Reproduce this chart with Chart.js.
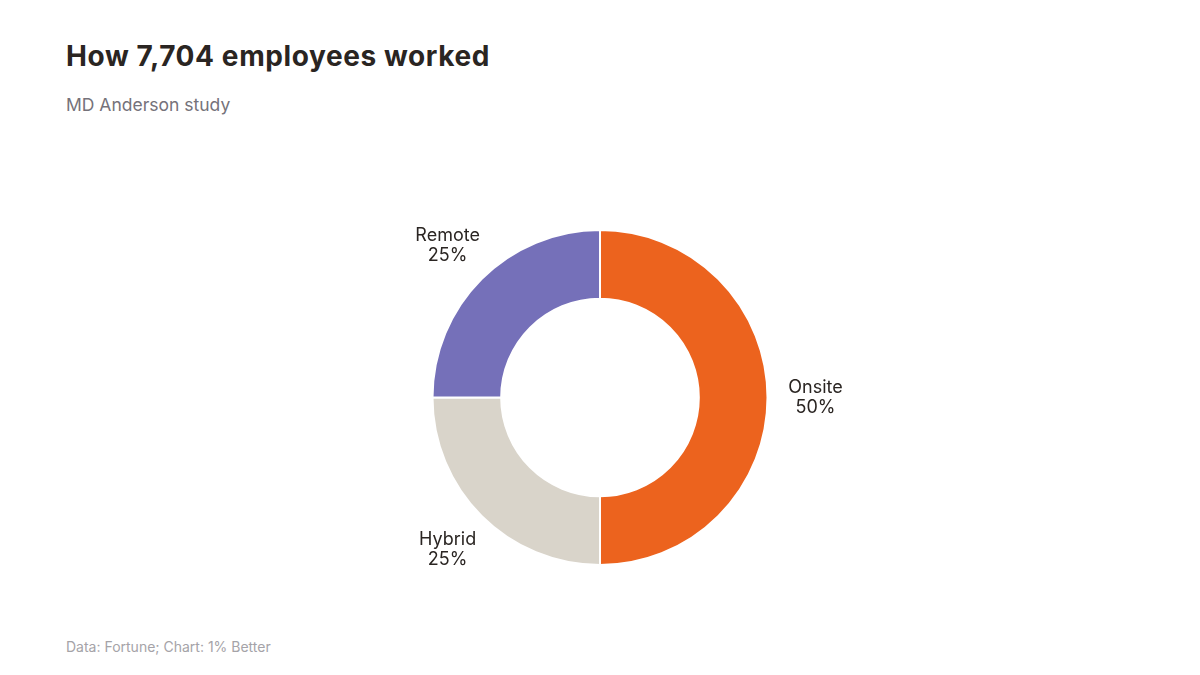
<!DOCTYPE html>
<html>
<head>
<meta charset="utf-8">
<script src="https://cdn.jsdelivr.net/npm/chart.js@4"></script>
<style>
  html, body { margin: 0; padding: 0; background: #fff; }
  body { width: 1200px; height: 675px; position: relative; overflow: hidden; font-family: Inter, "Noto Sans", sans-serif; }
  #titulo { position: absolute; left: 66px; top: 39px; font-size: 28px; font-weight: 700; color: #2a2522; letter-spacing: 0.6px; }
  #subtitulo { position: absolute; left: 66px; top: 94px; font-size: 17.5px; color: #75727a; }
  #fuente { position: absolute; left: 66px; top: 638px; font-size: 14px; color: #a5a3a8; }
  #lienzo { position: absolute; left: 0; top: 0; }
</style>
</head>
<body>
<div id="titulo">How 7,704 employees worked</div>
<div id="subtitulo">MD Anderson study</div>
<div id="fuente">Data: Fortune; Chart: 1% Better</div>
<canvas id="lienzo" width="1200" height="675"></canvas>
<script>
// Datos del gráfico
var categorias = ["Onsite", "Hybrid", "Remote"];
var valores = [50, 25, 25];
var colores = ["#ec631e", "#d9d4ca", "#7570b9"];

// Plugin para dibujar las etiquetas fuera del anillo
var etiquetasExternas = {
  id: "etiquetasExternas",
  afterDatasetsDraw: function(chart) {
    var ctx = chart.ctx;
    var meta = chart.getDatasetMeta(0);
    var total = valores.reduce(function(a, b) { return a + b; }, 0);
    ctx.save();
    ctx.font = "18px Inter, 'Noto Sans', sans-serif";
    ctx.fillStyle = "#2a2522";
    ctx.textAlign = "center";
    ctx.textBaseline = "middle";
    meta.data.forEach(function(arco, i) {
      var p = arco.getProps(["x", "y", "startAngle", "endAngle", "outerRadius"], true);
      var ang = (p.startAngle + p.endAngle) / 2;
      var r = p.outerRadius + 48;
      var x = p.x + Math.cos(ang) * r;
      var y = p.y + Math.sin(ang) * r;
      var pct = Math.round(valores[i] / total * 100) + "%";
      ctx.fillText(categorias[i], x, y - 10);
      ctx.fillText(pct, x, y + 10);
    });
    ctx.restore();
  }
};

var grafico = new Chart(document.getElementById("lienzo"), {
  type: "doughnut",
  data: {
    labels: categorias,
    datasets: [{
      data: valores,
      backgroundColor: colores,
      borderColor: "#ffffff",
      borderWidth: 2,
      hoverOffset: 0,
    }],
  },
  options: {
    responsive: false,
    animation: false,
    cutout: "59%",
    layout: { padding: { top: 229, bottom: 109, left: 100, right: 100 } },
    plugins: {
      legend: { display: false },
      tooltip: { enabled: false },
    },
  },
  plugins: [etiquetasExternas],
});
</script>
</body>
</html>
